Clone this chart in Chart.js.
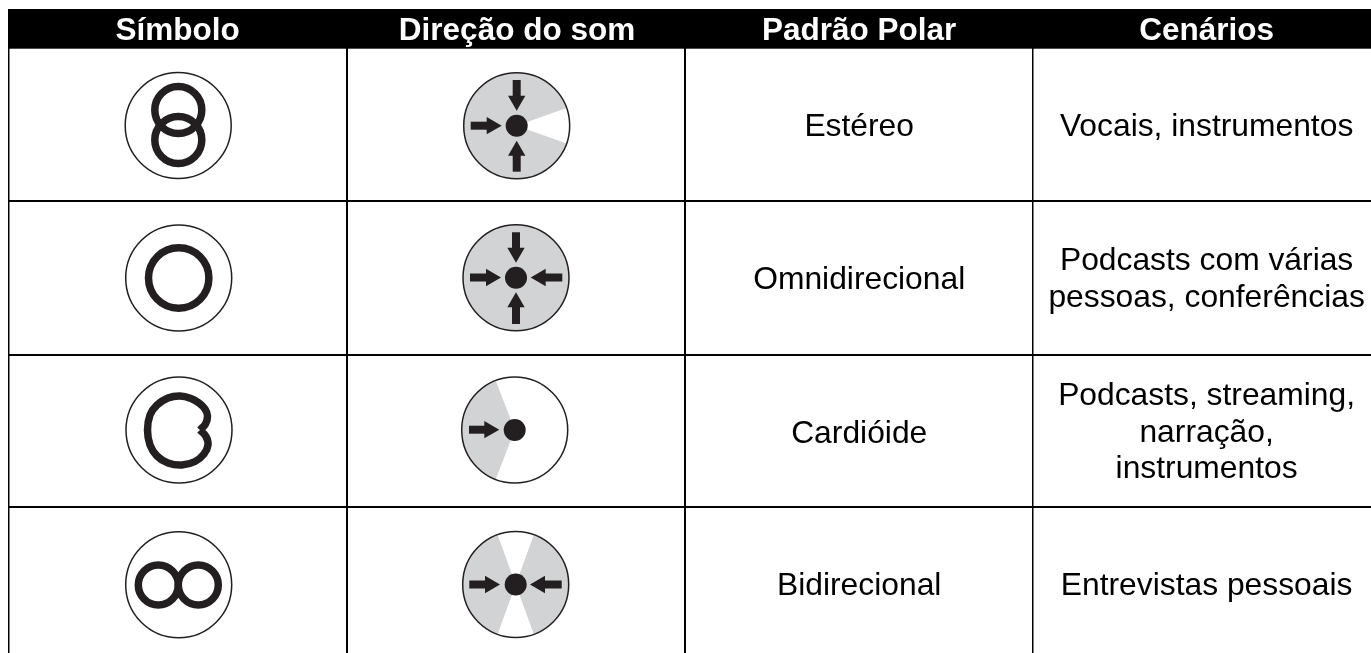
<!DOCTYPE html>
<html lang="pt">
<head>
<meta charset="utf-8">
<title>Padrões polares</title>
<script src="https://cdn.jsdelivr.net/npm/chart.js@4/dist/chart.umd.min.js"></script>
<style>
  html, body { margin: 0; background: #fff; }
  #quadro { width: 1371px; height: 653px; }
</style>
</head>
<body>
<div id="quadro"><canvas id="grafico"></canvas></div>
<script>
// textos da tabela
const cabecalhos = ['Símbolo', 'Direção do som', 'Padrão Polar', 'Cenários'];
const padroes = ['Estéreo', 'Omnidirecional', 'Cardióide', 'Bidirecional'];
const cenarios = [
  ['Vocais, instrumentos'],
  ['Podcasts com várias', 'pessoas, conferências'],
  ['Podcasts, streaming,', 'narração,', 'instrumentos'],
  ['Entrevistas pessoais']
];

// grade (unidades dos eixos)
const bordasColunas = [8.5, 346.5, 685, 1032.5];
const bordasLinhas = [201, 354.5, 507.5];
const centrosColunas = [177.6, 517, 859.2, 1206.6];
const baseCabecalho = 39.5;
const basesPadroes = [135.5, 288.5, 442.5, 595];
const basesCenarios = [[135.5], [270, 306.5], [405, 441.5, 478], [595]];
const espessurasColunas = [1.5, 2, 2, 1.5];

// simbolos
const circulosSimbolo = [{x: 178.2, y: 125.5}, {x: 178.7, y: 278}, {x: 179, y: 430}, {x: 178.7, y: 584.7}];
const aneis = [
  {x: 178.3, y: 110}, {x: 178.3, y: 140}, // estereo
  {x: 178.7, y: 278},                     // omni
  {x: 158.3, y: 585}, {x: 198.3, y: 585}  // bidirecional
];
const raiosAneis = [23.5, 23.5, 30.2, 20, 20];
const cardioide = [
  {x: 200, y: 430}, {x: 205.5, y: 424}, {x: 207.5, y: 416}, {x: 205, y: 409},
  {x: 199, y: 403}, {x: 191, y: 398.5}, {x: 180, y: 396}, {x: 168, y: 398},
  {x: 157, y: 405}, {x: 150, y: 415}, {x: 147.5, y: 430}, {x: 150, y: 445},
  {x: 157, y: 456}, {x: 168, y: 463}, {x: 182, y: 465}, {x: 195, y: 461.5},
  {x: 204, y: 454}, {x: 208, y: 445}, {x: 206, y: 436.5}, {x: 200, y: 430}
];

// direcao do som
const centrosDirecao = [{x: 516.7, y: 125.7}, {x: 516, y: 277.7}, {x: 514.7, y: 430}, {x: 515.7, y: 584.5}];
// setores cinza em graus, por linha da tabela
const setores = [
  [[19.5, 340.5]],
  [[0, 360]],
  [[111, 249]],
  [[-70, 70], [110, 250]]
];
// setas: de (cauda) -> para (ponta)
const setas = [
  [516.7, 80, 516.7, 110.7], [470.7, 125.7, 501.7, 125.7], [516.7, 171.7, 516.7, 140.7],
  [516, 232.3, 516, 262.7], [470, 277.5, 501, 277.5], [562.3, 277.5, 530.7, 277.5], [516, 324, 516, 292.3],
  [469, 429.7, 499.3, 429.7],
  [469.3, 584.5, 500, 584.5], [561.7, 584.5, 530, 584.5]
];

const PRETO = '#231f20';
const CINZA = '#d1d3d4';
const FONTE = '"Liberation Sans", Arial, sans-serif';
const TAM_CABECA = 10;

// cada seta vira um traco + um triangulo
const tracos = setas.map(([x1, y1, x2, y2]) => {
  const d = Math.hypot(x2 - x1, y2 - y1);
  const ux = (x2 - x1) / d, uy = (y2 - y1) / d;
  return {
    type: 'scatter', showLine: true, borderColor: PRETO, borderWidth: 8, borderCapStyle: 'butt', pointRadius: 0,
    data: [{x: x1, y: y1}, {x: x2 - ux * 14, y: y2 - uy * 14}]
  };
});
const pontasSetas = setas.map(([x1, y1, x2, y2]) => {
  const d = Math.hypot(x2 - x1, y2 - y1);
  return {x: x2 - (x2 - x1) / d * TAM_CABECA, y: y2 - (y2 - y1) / d * TAM_CABECA};
});
const rotacoes = setas.map(([x1, y1, x2, y2]) => Math.atan2(x2 - x1, y1 - y2) * 180 / Math.PI);

const pluginTabela = {
  id: 'tabela',
  beforeDatasetsDraw(chart) {
    const { ctx, scales: { x, y }, chartArea } = chart;
    ctx.save();
    // faixa do cabecalho
    ctx.fillStyle = '#000';
    ctx.fillRect(chartArea.left, chartArea.top, chartArea.width, y.getPixelForValue(48.7) - chartArea.top);
    // setores cinza
    ctx.fillStyle = CINZA;
    setores.forEach((lista, i) => {
      const cx = x.getPixelForValue(centrosDirecao[i].x);
      const cy = y.getPixelForValue(centrosDirecao[i].y);
      lista.forEach(([a, b]) => {
        ctx.beginPath();
        ctx.moveTo(cx, cy);
        ctx.arc(cx, cy, 53, a * Math.PI / 180, b * Math.PI / 180);
        ctx.closePath();
        ctx.fill();
      });
    });
    ctx.restore();
  },
  afterDatasetsDraw(chart) {
    const { ctx, scales: { x, y } } = chart;
    ctx.save();
    ctx.textAlign = 'center';
    ctx.textBaseline = 'alphabetic';
    ctx.fillStyle = '#fff';
    ctx.font = 'bold 31.5px ' + FONTE;
    cabecalhos.forEach((t, i) => {
      ctx.fillText(t, x.getPixelForValue(centrosColunas[i]), y.getPixelForValue(baseCabecalho));
    });
    ctx.fillStyle = '#000';
    ctx.font = '31.8px ' + FONTE;
    padroes.forEach((t, i) => {
      ctx.fillText(t, x.getPixelForValue(centrosColunas[2]), y.getPixelForValue(basesPadroes[i]));
    });
    cenarios.forEach((linhas, i) => {
      linhas.forEach((t, j) => {
        ctx.fillText(t, x.getPixelForValue(centrosColunas[3]), y.getPixelForValue(basesCenarios[i][j]));
      });
    });
    ctx.restore();
  }
};

new Chart(document.getElementById('grafico'), {
  type: 'scatter',
  data: {
    datasets: [
      {
        // pontos centrais
        data: centrosDirecao, pointRadius: 11, pointBackgroundColor: PRETO, pointBorderWidth: 0
      },
      {
        data: pontasSetas, pointStyle: 'triangle', pointRadius: TAM_CABECA, pointRotation: rotacoes,
        pointBackgroundColor: PRETO, pointBorderWidth: 0
      },
      ...tracos,
      {
        data: aneis, pointRadius: raiosAneis, pointBackgroundColor: 'transparent',
        pointBorderColor: PRETO, pointBorderWidth: 7.5
      },
      {
        data: cardioide, showLine: true, tension: 0.4, borderColor: PRETO, borderWidth: 7.5,
        borderJoinStyle: 'miter', pointRadius: 0
      },
      {
        // circulos externos
        data: [...circulosSimbolo, ...centrosDirecao], pointRadius: 53,
        pointBackgroundColor: 'transparent', pointBorderColor: PRETO, pointBorderWidth: 1.5
      }
    ]
  },
  options: {
    responsive: true,
    maintainAspectRatio: false,
    animation: false,
    events: [],
    layout: { autoPadding: false, padding: { left: 8, top: 9 } },
    plugins: { legend: { display: false }, tooltip: { enabled: false } },
    scales: {
      x: {
        type: 'linear', min: 8, max: 1371,
        afterBuildTicks: (s) => { s.ticks = bordasColunas.map(v => ({ value: v })); },
        ticks: { display: false },
        border: { display: false },
        grid: { color: '#000', lineWidth: (c) => espessurasColunas[c.index], drawTicks: false }
      },
      y: {
        type: 'linear', min: 9, max: 653, reverse: true,
        afterBuildTicks: (s) => { s.ticks = bordasLinhas.map(v => ({ value: v })); },
        ticks: { display: false },
        border: { display: false },
        grid: { color: '#000', lineWidth: 2, drawTicks: false }
      }
    }
  },
  plugins: [pluginTabela]
});
</script>
</body>
</html>
